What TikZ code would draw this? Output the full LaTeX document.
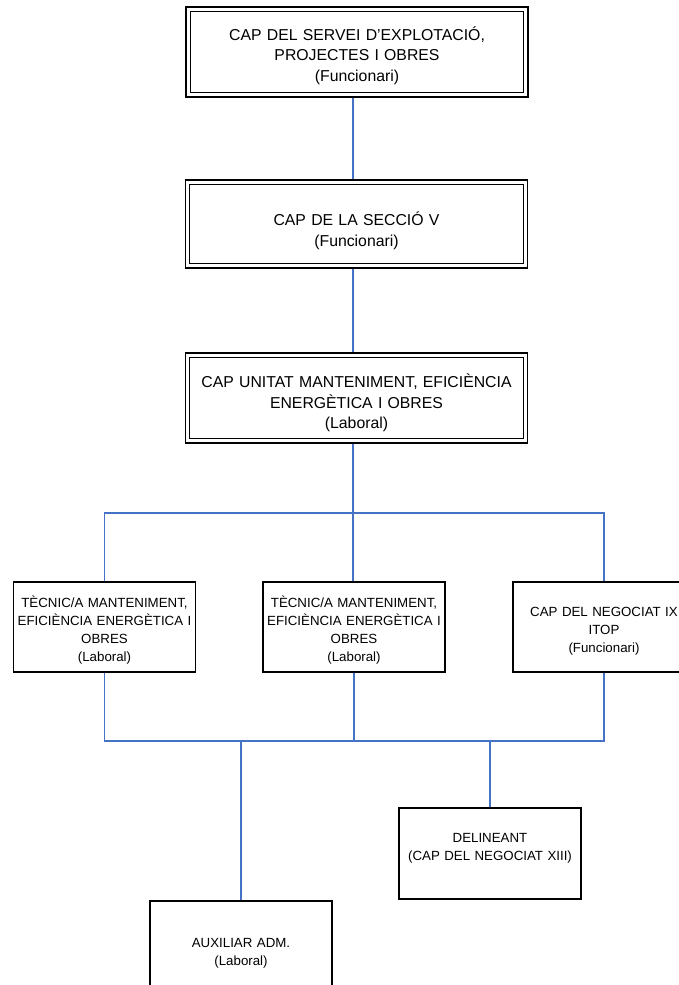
\documentclass[tikz,border=0pt]{standalone}
\usepackage{fontspec}
\setmainfont{Liberation Sans}
\definecolor{lineblue}{RGB}{68,114,196}
\begin{document}
\begin{tikzpicture}[x=1pt,y=-1pt,
  conn/.style={draw=lineblue,line width=1.5pt},
  topbox/.style={draw,line width=1.9pt,minimum width=342pt,minimum height=90pt,inner sep=0pt},
  toptext/.style={text width=330pt,align=center,font=\fontsize{15.8}{20.5}\selectfont,inner sep=0pt},
  innerframe/.style={draw,line width=1pt},
  subbox/.style={draw,line width=1.4pt,minimum width=182pt,minimum height=90pt,inner sep=0pt},
  subtext/.style={text width=178pt,align=center,font=\fontsize{13.3}{18}\selectfont,inner sep=0pt}]
\useasboundingbox (0,0) rectangle (679,985);
\coordinate (spine) at (353,0);
\coordinate (bus1) at (353,513);
\coordinate (bus2) at (353,741);

\node[topbox] (b1) at (357,52) {};
\draw[innerframe] ([xshift=5pt,yshift=-5pt]b1.north west) rectangle ([xshift=-5pt,yshift=5pt]b1.south east);
\node[toptext] (b1t) at (357,55.5) {CAP DEL SERVEI D’EXPLOTACIÓ,\\PROJECTES I OBRES\\(Funcionari)};

\node[topbox,minimum height=88pt] (b2) at (356.5,224) {};
\draw[innerframe] ([xshift=5pt,yshift=-5pt]b2.north west) rectangle ([xshift=-5pt,yshift=5pt]b2.south east);
\node[toptext] (b2t) at (356.5,231) {CAP DE LA SECCIÓ V\\(Funcionari)};

\node[topbox] (b3) at (356.5,398) {};
\draw[innerframe] ([xshift=5pt,yshift=-5pt]b3.north west) rectangle ([xshift=-5pt,yshift=5pt]b3.south east);
\node[toptext] (b3t) at (356.5,403) {CAP UNITAT MANTENIMENT, EFICIÈNCIA\\ENERGÈTICA I OBRES\\(Laboral)};

\node[subbox] (t1) at (104.5,627) {};
\node[subtext] (t1t) at (104.5,630) {TÈCNIC/A MANTENIMENT,\\EFICIÈNCIA ENERGÈTICA I\\OBRES\\(Laboral)};
\node[subbox] (t2) at (354,627) {};
\node[subtext] (t2t) at (354,630) {TÈCNIC/A MANTENIMENT,\\EFICIÈNCIA ENERGÈTICA I\\OBRES\\(Laboral)};
\node[subbox] (t3) at (604,627) {};
\node[subtext] (t3t) at (604,631) {CAP DEL NEGOCIAT IX\\ITOP\\(Funcionari)};

\node[subbox,minimum height=91pt] (del) at (490,853.5) {};
\node[subtext] (delt) at (490,848.5) {DELINEANT\\(CAP DEL NEGOCIAT XIII)};
\node[subbox,minimum height=100pt] (aux) at (241,951) {};
\node[subtext] (auxt) at (241,953) {AUXILIAR ADM.\\(Laboral)};

\draw[conn] (b1.south -| spine) -- (b2.north -| spine);
\draw[conn] (b2.south -| spine) -- (b3.north -| spine);
\draw[conn] (b3.south -| spine) -- (t2.north -| spine);
\draw[conn] (t1.north) -- (t1.north |- bus1) -- (t3.north |- bus1) -- (t3.north);
\draw[conn] (t1.south) -- (t1.south |- bus2) -- (t3.south |- bus2) -- (t3.south);
\draw[conn] (t2.south) -- (t2.south |- bus2);
\draw[conn] (aux.north) -- (aux.north |- bus2);
\draw[conn] (del.north) -- (del.north |- bus2);
\end{tikzpicture}
\end{document}
